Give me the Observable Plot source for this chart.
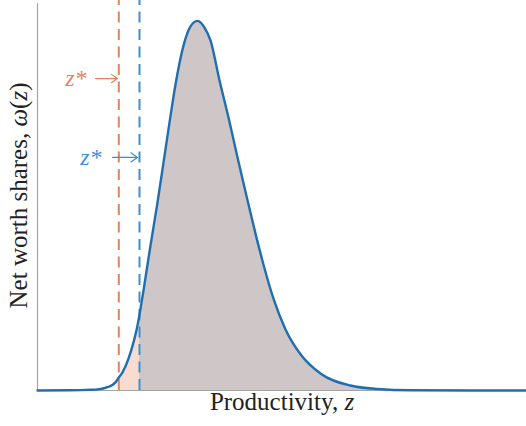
<!DOCTYPE html>
<html><head><meta charset="utf-8">
<script src="https://cdn.jsdelivr.net/npm/d3@7"></script>
<script src="https://cdn.jsdelivr.net/npm/@observablehq/plot@0.6"></script>
<style>body{margin:0;background:#fff} svg text{font-family:'Liberation Serif','DejaVu Serif','Times New Roman',serif !important}</style>
</head><body><div id="chart"></div>
<script>
// productivity z and net worth shares omega(z)
const zVals = [0.00,0.33,0.43,0.53,0.60,0.70,0.78,0.813,0.85,0.91,0.96,1.01,1.02,1.06,1.13,1.20,1.26,1.32,1.38,1.46,1.53,1.60,1.67,1.73,1.82,1.91,2.00,2.10,2.18,2.26,2.36,2.48,2.63,2.83,3.13,3.40,3.73,4.89];
const omegaVals = [0,0.0005,0.001,0.002,0.003,0.009,0.022,0.035,0.049,0.086,0.130,0.189,0.205,0.270,0.392,0.508,0.616,0.724,0.827,0.932,0.984,0.999,0.981,0.946,0.838,0.738,0.630,0.514,0.424,0.340,0.248,0.165,0.098,0.046,0.0135,0.004,0.0005,0];
const zStarOrange = 0.813;
const zStarBlue = 1.02;
const labels = ["z*", "z*"];
const labelZ = [0.49, 0.64];
const labelOmega = [0.843, 0.63];
const arrowZ1 = [0.58, 0.75];
const arrowZ2 = [0.80, 1.00];
const colors = ["#e4825e", "#3f8fcf"];

const data = zVals.map((z, i) => ({z, w: omegaVals[i]}));
const orangePart = data.filter(d => d.z >= zStarOrange && d.z <= zStarBlue);
const grayPart = data.filter(d => d.z >= zStarBlue);
const ann = labels.map((t, i) => ({t, z: labelZ[i], w: labelOmega[i], z1: arrowZ1[i], z2: arrowZ2[i], c: colors[i]}));
const stars = [{z: zStarOrange, c: colors[0]}, {z: zStarBlue, c: colors[1]}];

const font = "'Liberation Serif', 'DejaVu Serif', serif";
const chart = Plot.plot({
  width: 526, height: 426,
  marginLeft: 37, marginRight: 0, marginTop: 0, marginBottom: 36,
  style: {background: "#fff"},
  x: {domain: [0, 4.89], axis: null},
  y: {domain: [0, 1.054], axis: null},
  marks: [
    Plot.areaY(orangePart, {x: "z", y: "w", fill: "#f7dccf", curve: "monotone-x"}),
    Plot.areaY(grayPart, {x: "z", y: "w", fill: "#cec6c7", curve: "monotone-x"}),
    Plot.ruleY([0], {stroke: "#a3a3a3", strokeWidth: 1.2}),
    Plot.ruleX([0], {y1: 0, y2: 1.045, stroke: "#a3a3a3", strokeWidth: 1.2}),
    Plot.ruleX(stars, {x: "z", y1: 0, y2: 1.054, stroke: "c", strokeWidth: 2, strokeDasharray: "11,6.5"}),
    Plot.lineY(data, {x: "z", y: "w", stroke: "#1f6fb0", strokeWidth: 2.4, curve: "monotone-x"}),
    Plot.arrow(ann, {x1: "z1", x2: "z2", y1: "w", y2: "w", stroke: "c", strokeWidth: 1.2, headLength: 10, headAngle: 70}),
    Plot.text(ann, {x: "z", y: "w", text: "t", fill: "c", textAnchor: "end", fontSize: 24, fontStyle: "italic", fontFamily: font}),
    Plot.text(["Productivity, z"], {frameAnchor: "bottom", textAnchor: "middle", dy: 19, fontSize: 25, fill: "#222", fontFamily: font}),
    Plot.text(["Net worth shares, ω(z)"], {frameAnchor: "left", textAnchor: "middle", dx: -19, rotate: -90, fontSize: 25, fill: "#222", fontFamily: font})
  ]
});
chart.style.fontFamily = font;
// italicise math symbols
chart.querySelectorAll("text").forEach(t => {
  if (t.textContent === "Productivity, z") {
    t.innerHTML = 'Productivity, <tspan font-style="italic">z</tspan>';
  } else if (t.textContent === "Net worth shares, ω(z)") {
    t.innerHTML = 'Net worth shares, <tspan font-style="italic">ω</tspan>(<tspan font-style="italic">z</tspan>)';
  }
});
document.getElementById("chart").appendChild(chart);
</script>
</body></html>
